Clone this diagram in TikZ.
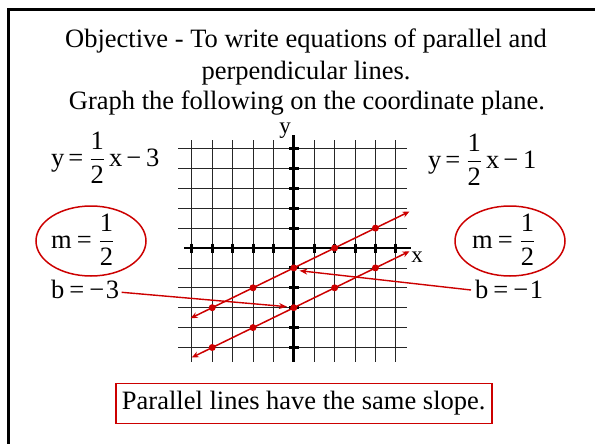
\documentclass[tikz,border=0pt]{standalone}
\usepackage{amsmath}
\usepackage{fontspec}
\setmainfont{Liberation Serif}
\usetikzlibrary{arrows.meta,shapes.geometric}
\definecolor{pred}{RGB}{204,0,0}
\newcommand{\halffrac}{$\dfrac{\text{1}}{\text{2}}$}
\newcommand{\gp}[1]{\hspace{#1pt}}
\begin{document}
\begin{tikzpicture}[x=1pt,y=-1pt,
  txt/.style={inner sep=0pt, font=\fontsize{26.5}{30}\selectfont},
  lbl/.style={inner sep=0pt, font=\fontsize{23}{26}\selectfont},
  gridl/.style={draw=black!85, line width=0.8pt},
  axisl/.style={draw=black, line width=2.8pt},
  tickl/.style={draw=black, line width=3pt},
  redl/.style={draw=pred, line width=1.5pt, {Stealth[length=7pt,width=6pt]}-{Stealth[length=7pt,width=6pt]}},
  ptr/.style={draw=pred, line width=1.4pt, -{Stealth[length=8pt,width=6pt]}},
  dot/.style={circle, fill=pred, inner sep=0pt, minimum size=7pt},
  oval/.style={ellipse, draw=pred, line width=1.5pt, minimum width=110pt, minimum height=70pt, inner sep=0pt},
  framel/.style={draw=black, line width=3pt}
]
\useasboundingbox (0,0) rectangle (595,444);
% frame
\coordinate (fb) at (8.5,446);
\coordinate (fc) at (8.5,10);
\coordinate (fr) at (597,10);
\draw[framel] (fb) -- (fc) -- (fr);

% title
\node[txt, anchor=base] (t1) at (306,48) {Objective - To write equations of parallel and};
\node[txt, anchor=base] (t2) at (306,80) {perpendicular lines.};
\node[txt, anchor=base] (t3) at (307,110) {Graph the following on the coordinate plane.};

% grid
\foreach \i in {-5,-4,-3,-2,-1,1,2,3,4,5}{
  \pgfmathsetmacro{\gx}{293.8+20.4*\i}
  \pgfmathsetmacro{\gy}{248-19.9*\i}
  \draw[gridl] (\gx,140) -- (\gx,362);
  \draw[gridl] (178,\gy) -- (407,\gy);
}
% axes
\coordinate (xa) at (184,248);
\coordinate (xb) at (411,248);
\coordinate (ya) at (293.8,135);
\coordinate (yb) at (293.8,362);
\draw[axisl] (xa) -- (xb);
\draw[axisl] (ya) -- (yb);
\foreach \i in {-5,-4,-3,-2,-1,1,2,3,4,5}{
  \pgfmathsetmacro{\gx}{293.8+20.4*\i}
  \pgfmathsetmacro{\gy}{248-19.9*\i}
  \draw[tickl] (\gx,243.5) -- (\gx,252.5);
  \draw[tickl] (289,\gy) -- (298.6,\gy);
}
\node[lbl] (ylab) at (285,131) {y};
\node[lbl] (xlab) at (417,257) {x};

% red lines
\coordinate (l1a) at (190.6,318.2);
\coordinate (l1b) at (409.5,211.5);
\coordinate (l2a) at (191.8,357.5);
\coordinate (l2b) at (409.5,251.3);
\draw[redl] (l1a) -- (l1b);
\draw[redl] (l2a) -- (l2b);
\node[dot] (d1a) at (212.2,307.7) {};
\node[dot] (d1b) at (253.0,287.8) {};
\node[dot] (d1c) at (293.8,267.9) {};
\node[dot] (d1d) at (334.6,248.0) {};
\node[dot] (d1e) at (375.4,228.1) {};
\node[dot] (d2a) at (212.2,347.5) {};
\node[dot] (d2b) at (253.0,327.6) {};
\node[dot] (d2c) at (293.8,307.7) {};
\node[dot] (d2d) at (334.6,287.8) {};
\node[dot] (d2e) at (375.4,267.9) {};

% equations
\node[txt, anchor=base west] (eqL) at (51,166) {y\gp{4}=\gp{6}\halffrac\gp{4}x\gp{4}−\gp{5}3};
\node[txt, anchor=base west] (eqR) at (428,168) {y\gp{4}=\gp{6}\halffrac\gp{4}x\gp{4}−\gp{5}1};

% slope ovals
\node[oval] (ovL) at (91,241) {};
\node[oval] (ovR) at (510,241) {};
\node[txt, anchor=base west] (mL) at (51,248) {m\gp{5}=\gp{7}\halffrac};
\node[txt, anchor=base west] (mR) at (472,248) {m\gp{5}=\gp{7}\halffrac};

% intercepts
\node[txt, anchor=base west] (bL) at (51,298) {b\gp{5}=\gp{5}−\gp{1.5}3};
\node[txt, anchor=base west] (bR) at (475,298) {b\gp{5}=\gp{5}−\gp{1.5}1};
\coordinate (pL) at (121.7,292.3);
\coordinate (pLt) at (287,306.7);
\coordinate (pR) at (471,290);
\coordinate (pRt) at (299.5,270.7);
\draw[ptr] (pL) -- (pLt);
\draw[ptr] (pR) -- (pRt);

% conclusion box
\node[txt, draw=pred, line width=1.6pt, minimum width=376pt, minimum height=40pt, text height=18pt, text depth=5pt] (concl) at (303.7,403.3) {Parallel lines have the same slope.};
\end{tikzpicture}
\end{document}
